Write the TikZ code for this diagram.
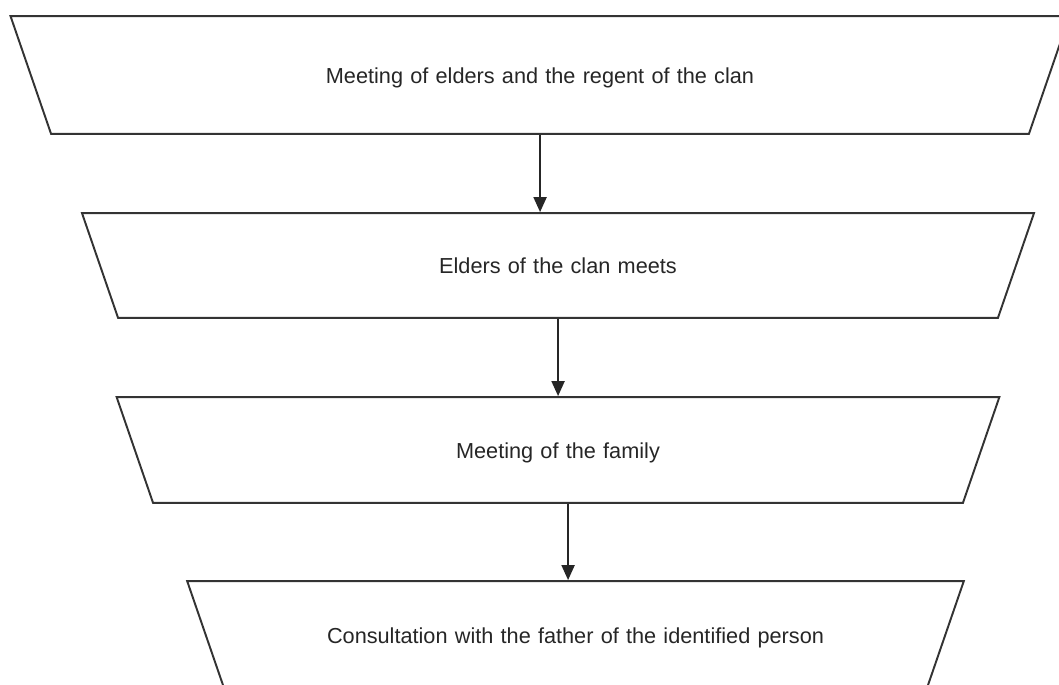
\documentclass[tikz,border=0pt]{standalone}
\usepackage{fontspec}
\setmainfont{Liberation Sans}
\usetikzlibrary{arrows.meta,shapes.geometric}

\begin{document}
\begin{tikzpicture}[x=0.02cm,y=-0.02cm]
\tikzset{
  stepbox/.style 2 args={trapezium,shape border rotate=180,
    trapezium left angle=71,trapezium right angle=71,draw=black!80,line width=1.1pt,
    text width=#1,align=center,inner xsep=0pt,inner ysep=#2,
    text height=10.7pt,text depth=1.3pt,font=\fontsize{12.35}{15}\selectfont,text=black!85},
  flow/.style={-{Triangle[length=3mm,width=2.6mm]},line width=1.1pt,draw=black!85}
}
\useasboundingbox (0,0) rectangle (1059,684);
\node[stepbox={19.56cm}{0.968cm}] (n_meet) at (540,75) {Meeting of elders and the regent of the clan};
\node[stepbox={17.60cm}{0.838cm}] (n_elders) at (558,265.5) {Elders of the clan meets};
\node[stepbox={16.20cm}{0.848cm}] (n_family) at (558,450) {Meeting of the family};
\node[stepbox={14.05cm}{0.868cm}] (n_father) at (575.5,635) {Consultation with the father of the identified person};
\draw[flow] (n_meet.south) -- (n_meet.south |- n_elders.north);
\draw[flow] (n_elders.south) -- (n_elders.south |- n_family.north);
\draw[flow] ([xshift=0.2cm]n_family.south) -- ([xshift=0.2cm]n_family.south |- n_father.north);
\end{tikzpicture}
\end{document}
